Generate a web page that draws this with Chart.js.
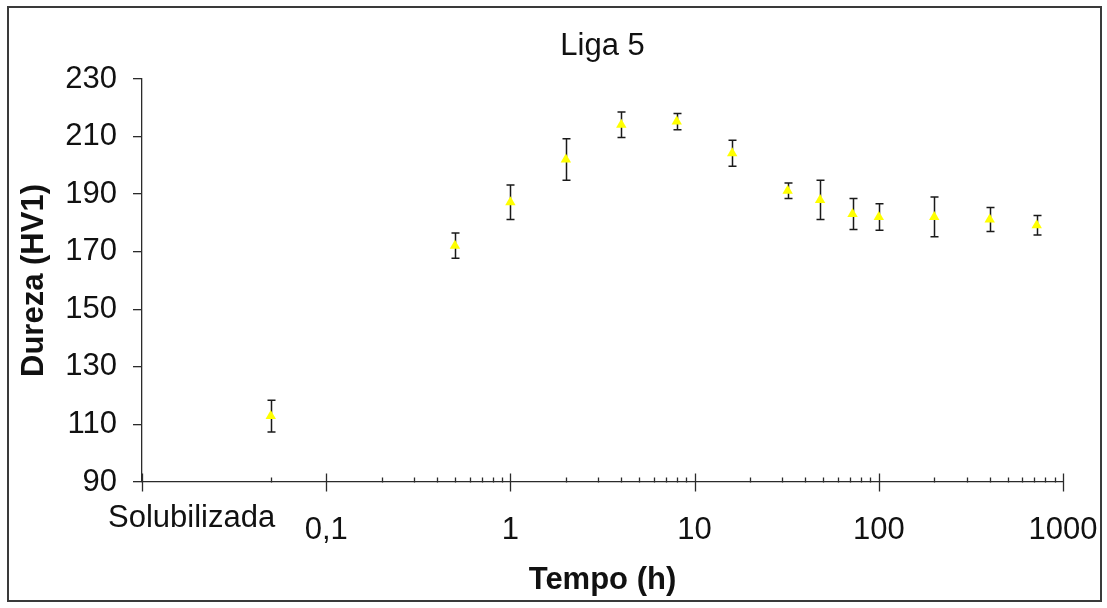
<!DOCTYPE html>
<html>
<head>
<meta charset="utf-8">
<script src="https://cdn.jsdelivr.net/npm/chart.js@4/dist/chart.umd.min.js"></script>
<style>
  html, body { margin: 0; padding: 0; background: #ffffff; }
  #c { display: block; }
</style>
</head>
<body>
<canvas id="c" width="1107" height="608"></canvas>
<script>
// ---- Data ----
const chartTitle = 'Liga 5';
const xAxisTitle = 'Tempo (h)';
const yAxisTitle = 'Dureza (HV1)';

const times    = [0.05, 0.5, 1, 2, 4, 8, 16, 32, 48, 72, 100, 200, 400, 720];
const hardness = [112.9, 172.1, 187.2, 202.0, 214.1, 215.2, 204.2, 191.2, 188.0, 183.1, 182.1, 182.1, 181.2, 179.2];
const errors   = [5.5, 4.4, 6.0, 7.2, 4.4, 2.8, 4.5, 2.7, 6.8, 5.4, 4.6, 6.9, 4.2, 3.4];

const xTickValues = [0.01, 0.1, 1, 10, 100, 1000];
const xTickLabels = ['Solubilizada', '0,1', '1', '10', '100', '1000'];
const xMinorTicks = [0.05,
  0.2, 0.3, 0.4, 0.5, 0.6, 0.7, 0.8, 0.9,
  2, 3, 4, 5, 6, 7, 8, 9,
  20, 30, 40, 50, 60, 70, 80, 90,
  200, 300, 400, 500, 600, 700, 800, 900];
const yTickValues = [90, 110, 130, 150, 170, 190, 210, 230];

const FONT = '"Liberation Sans", Arial, sans-serif';
const FS = 31;
const AXIS_COLOR = '#2b2b2b';

const points = times.map((t, i) => ({ x: t, y: hardness[i] }));

const decorPlugin = {
  id: 'decor',
  beforeDraw(chart) {
    const ctx = chart.ctx;
    ctx.save();
    ctx.fillStyle = '#ffffff';
    ctx.fillRect(0, 0, chart.width, chart.height);
    ctx.strokeStyle = '#3a3a3a';
    ctx.lineWidth = 2;
    ctx.strokeRect(8, 7, 1093, 594);
    ctx.restore();
  },
  beforeDatasetsDraw(chart) {
    const ctx = chart.ctx;
    const xs = chart.scales.x, ys = chart.scales.y;
    ctx.save();
    ctx.strokeStyle = '#1a1a1a';
    ctx.lineWidth = 1.5;
    for (let i = 0; i < times.length; i++) {
      const px = Math.round(xs.getPixelForValue(times[i])) + 0.5;
      const top = ys.getPixelForValue(hardness[i] + errors[i]);
      const bot = ys.getPixelForValue(hardness[i] - errors[i]);
      ctx.beginPath();
      ctx.moveTo(px, top); ctx.lineTo(px, bot);
      ctx.moveTo(px - 4, top); ctx.lineTo(px + 4, top);
      ctx.moveTo(px - 4, bot); ctx.lineTo(px + 4, bot);
      ctx.stroke();
    }
    ctx.restore();
  },
  afterDraw(chart) {
    const ctx = chart.ctx;
    const xs = chart.scales.x;
    const area = chart.chartArea;
    const yAxis = Math.round(area.bottom) + 0.5;
    ctx.save();
    ctx.strokeStyle = AXIS_COLOR;
    ctx.lineWidth = 1.3;
    ctx.beginPath();
    xTickValues.forEach(v => {
      const px = Math.round(xs.getPixelForValue(v)) + 0.5;
      ctx.moveTo(px, yAxis - 9); ctx.lineTo(px, yAxis + 9);
    });
    xMinorTicks.forEach(v => {
      const px = Math.round(xs.getPixelForValue(v)) + 0.5;
      ctx.moveTo(px, yAxis - 5); ctx.lineTo(px, yAxis);
    });
    ctx.stroke();
    ctx.fillStyle = '#111111';
    ctx.font = FS + 'px ' + FONT;
    ctx.textAlign = 'left';
    ctx.textBaseline = 'middle';
    ctx.fillText(xTickLabels[0], xs.getPixelForValue(xTickValues[0]) - 34, 518);
    ctx.textAlign = 'center';
    ctx.fillText(chartTitle, (area.left + area.right) / 2, 46);
    ctx.restore();
  }
};

new Chart(document.getElementById('c'), {
  type: 'scatter',
  data: {
    datasets: [{
      label: chartTitle,
      data: points,
      pointStyle: 'triangle',
      pointRadius: 6,
      pointHoverRadius: 6,
      backgroundColor: '#ffff00',
      borderColor: '#ffff00',
      borderWidth: 0,
      showLine: false
    }]
  },
  options: {
    responsive: false,
    animation: false,
    events: [],
    layout: { autoPadding: false, padding: { left: 8, top: 79, right: 44, bottom: 0 } },
    plugins: {
      legend: { display: false },
      tooltip: { enabled: false },
      title: { display: false }
    },
    scales: {
      x: {
        type: 'logarithmic',
        min: 0.01,
        max: 1000,
        afterBuildTicks(scale) {
          scale.ticks = xTickValues.map(v => ({ value: v, major: true }));
        },
        afterFit(scale) {
          scale.height = 126;
          scale.paddingLeft = 0;
          scale.paddingRight = 0;
        },
        grid: { display: false, drawTicks: false },
        border: { display: true, color: AXIS_COLOR, width: 1.3 },
        ticks: {
          autoSkip: false,
          maxRotation: 0,
          minRotation: 0,
          padding: 30,
          color: '#111111',
          font: { family: FONT, size: FS },
          callback(value) {
            const i = xTickValues.indexOf(value);
            if (i <= 0) return '';
            return xTickLabels[i];
          }
        },
        title: {
          display: true,
          text: xAxisTitle,
          color: '#111111',
          font: { family: FONT, size: FS, weight: 'bold' },
          padding: { top: 0, bottom: 9 }
        }
      },
      y: {
        type: 'linear',
        min: 90,
        max: 230,
        afterBuildTicks(scale) {
          scale.ticks = yTickValues.map(v => ({ value: v }));
        },
        afterFit(scale) {
          scale.width = 134;
          scale.paddingTop = 0;
          scale.paddingBottom = 0;
        },
        grid: { display: true, drawOnChartArea: false, drawTicks: true, tickLength: 9, color: AXIS_COLOR, lineWidth: 1.3 },
        border: { display: true, color: AXIS_COLOR, width: 1.3 },
        ticks: {
          padding: 16,
          color: '#111111',
          font: { family: FONT, size: FS }
        },
        title: {
          display: true,
          text: yAxisTitle,
          color: '#111111',
          font: { family: FONT, size: FS, weight: 'bold' },
          padding: { top: 8, bottom: 0 }
        }
      }
    }
  },
  plugins: [decorPlugin]
});
</script>
</body>
</html>
